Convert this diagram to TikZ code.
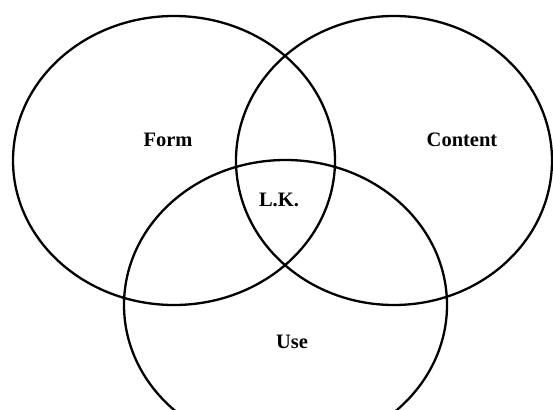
\documentclass[tikz,border=0pt]{standalone}
\usepackage{fontspec}
\setmainfont{Liberation Serif}
\begin{document}
\begin{tikzpicture}[x=1pt,y=-1pt,
  set/.style={draw=black,line width=2.3pt},
  lbl/.style={font=\fontsize{20.5}{24}\selectfont\bfseries,inner sep=0pt}]
\useasboundingbox (0,0) rectangle (553,409);
\clip (0,0) rectangle (553,409);
\fill[white] (0,0) rectangle (553,409);
\draw[set] (174,160.5) ellipse [x radius=161, y radius=144.5];
\draw[set] (394,160.5) ellipse [x radius=158, y radius=144.5];
\draw[set] (285.5,305) ellipse [x radius=161.5, y radius=145];
\node[lbl] (form) at (168,140) {Form};
\node[lbl] (content) at (462,140) {Content};
\node[lbl] (lk) at (279,200) {L.K.};
\node[lbl] (use) at (292,342) {Use};
\end{tikzpicture}
\end{document}
